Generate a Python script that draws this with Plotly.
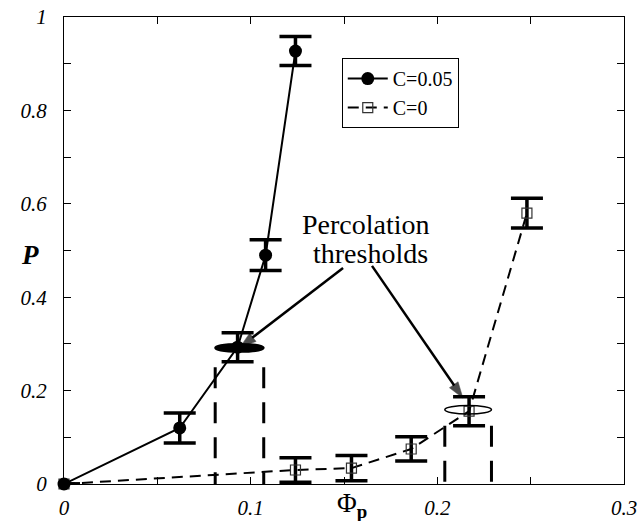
import plotly.graph_objects as go

# ---- data ----
phi_c005 = [0.0, 0.062, 0.093, 0.108, 0.124]
p_c005 = [0.0, 0.12, 0.293, 0.49, 0.927]
err_c005 = [0.0, 0.032, 0.031, 0.033, 0.031]

phi_c0 = [0.0, 0.124, 0.154, 0.186, 0.217, 0.248]
p_c0 = [0.0, 0.03, 0.034, 0.075, 0.156, 0.58]
err_c0 = [0.0, 0.026, 0.027, 0.026, 0.031, 0.032]

# percolation threshold markers (ellipse bounds and dashed drop lines)
thr1_x = [0.081, 0.107]
thr1_y = [0.283, 0.300]
thr1_top = 0.25
thr2_x = [0.204, 0.229]
thr2_y = [0.150, 0.168]
thr2_top = 0.125

# arrows: [tail, head] in data units
arrow1_x = [0.1495, 0.0943]
arrow1_y = [0.4625, 0.293]
arrow2_x = [0.165, 0.2137]
arrow2_y = [0.467, 0.184]

xtick_vals = [0, 0.1, 0.2, 0.3]
xtick_text = ["0", "0.1", "0.2", "0.3"]
ytick_vals = [0, 0.2, 0.4, 0.6, 0.8, 1.0]
ytick_text = ["0", "0.2", "0.4", "0.6", "0.8", "1"]

FONT = "Liberation Serif, Times New Roman, serif"

fig = go.Figure()

# dashed drop lines at the thresholds
for xs, top in ((thr1_x, thr1_top), (thr2_x, thr2_top)):
    for xv in xs:
        fig.add_trace(go.Scatter(
            x=[xv, xv], y=[top, 0], mode="lines",
            line=dict(color="black", width=3, dash="21px,14px"),
            showlegend=False, hoverinfo="skip", cliponaxis=False))

fig.add_trace(go.Scatter(
    x=phi_c0, y=p_c0, name="C=0", mode="lines+markers",
    line=dict(color="black", width=2, dash="11px,7px"),
    marker=dict(symbol="square-open", size=10, color="#333333",
                line=dict(width=1.2)),
    error_y=dict(type="data", array=err_c0, visible=True,
                 color="black", thickness=3.5, width=16),
    cliponaxis=False))

fig.add_trace(go.Scatter(
    x=phi_c005, y=p_c005, name="C=0.05", mode="lines+markers",
    line=dict(color="black", width=2),
    marker=dict(symbol="circle", size=13, color="black"),
    error_y=dict(type="data", array=err_c005, visible=True,
                 color="black", thickness=3.5, width=16),
    cliponaxis=False))

# arrows as lines with an arrow-head marker at the head end
for ax_, ay_ in ((arrow1_x, arrow1_y), (arrow2_x, arrow2_y)):
    fig.add_trace(go.Scatter(
        x=ax_, y=ay_, mode="lines+markers",
        line=dict(color="black", width=2.5),
        marker=dict(symbol="arrow", size=[0, 17], color="black",
                    angleref="previous", line=dict(width=0.5, color="black")),
        showlegend=False, hoverinfo="skip"))

# threshold ellipses
fig.add_shape(type="circle", xref="x", yref="y",
              x0=thr1_x[0], x1=thr1_x[1], y0=thr1_y[0], y1=thr1_y[1],
              fillcolor="black", line=dict(color="black", width=2))
fig.add_shape(type="circle", xref="x", yref="y",
              x0=thr2_x[0], x1=thr2_x[1], y0=thr2_y[0], y1=thr2_y[1],
              line=dict(color="black", width=1.5))

# text
fig.add_annotation(x=0.162, y=0.556, xref="x", yref="y",
                   text="Percolation", showarrow=False,
                   font=dict(family=FONT, size=28, color="black"))
fig.add_annotation(x=0.164, y=0.494, xref="x", yref="y",
                   text="thresholds", showarrow=False,
                   font=dict(family=FONT, size=28, color="black"))

# axis titles
fig.add_annotation(x=0.514, y=-0.045, xref="paper", yref="paper",
                   text="Φ<sub><b>p</b></sub>", showarrow=False,
                   font=dict(family=FONT, size=27, color="black"),
                   xanchor="center", yanchor="middle")
fig.add_annotation(x=-0.061, y=0.49, xref="paper", yref="paper",
                   text="<b><i>P</i></b>", showarrow=False,
                   font=dict(family=FONT, size=27, color="black"),
                   xanchor="center", yanchor="middle")

axis_common = dict(showline=True, linecolor="black", linewidth=1,
                   mirror="allticks", ticks="inside", ticklen=7,
                   tickwidth=1, tickcolor="black", showgrid=False,
                   zeroline=False, automargin=False,
                   tickfont=dict(family=FONT, size=21, color="black",
                                 style="italic"))

fig.update_xaxes(range=[0, 0.3], tickmode="array", tickvals=xtick_vals,
                 ticktext=xtick_text, ticklabelstandoff=5,
                 minor=dict(dtick=0.05, ticks="inside", ticklen=7,
                            tickcolor="black", tickwidth=1),
                 **axis_common)
fig.update_yaxes(range=[0, 1], tickmode="array", tickvals=ytick_vals,
                 ticktext=ytick_text, ticklabelstandoff=12,
                 minor=dict(dtick=0.1, ticks="inside", ticklen=7,
                            tickcolor="black", tickwidth=1),
                 **axis_common)

fig.update_layout(
    width=640, height=521,
    margin=dict(l=64, r=16, t=17, b=37, autoexpand=False),
    paper_bgcolor="white", plot_bgcolor="white",
    font=dict(family=FONT, color="black"),
    legend=dict(x=0.496, y=0.912, xanchor="left", yanchor="top",
                bgcolor="white", bordercolor="black", borderwidth=1,
                font=dict(family=FONT, size=20, color="black"),
                traceorder="reversed", itemwidth=40),
)

# remove the page's default 8px body margin so the figure fills the window
fig.write_html("out.html", config={"displayModeBar": False},
               post_script="document.body.style.margin='0';")
